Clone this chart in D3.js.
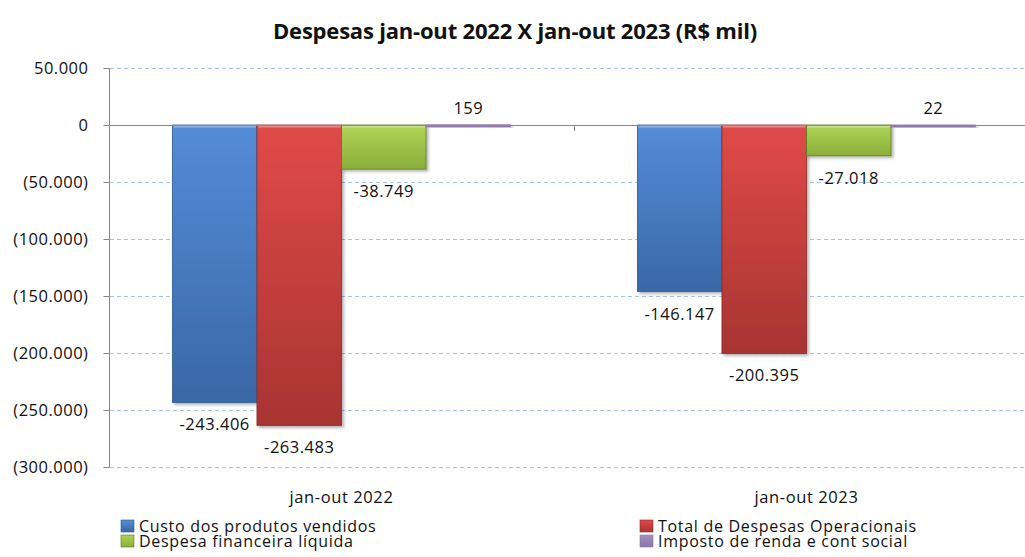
<!DOCTYPE html>
<html>
<head>
<meta charset="utf-8">
<script src="https://cdn.jsdelivr.net/npm/d3@7"></script>
<style>
body { margin: 0; background: #fff; }
text { font-family: "Open Sans", "Noto Sans", sans-serif; fill: #111; }
</style>
</head>
<body>
<div id="main_div"></div>
<script>
var categories = ["jan-out 2022", "jan-out 2023"];
var series = ["Custo dos produtos vendidos", "Total de Despesas Operacionais", "Despesa financeira líquida", "Imposto de renda e cont social"];
var values = [
    [-243406, -263483, -38749, 159],
    [-146147, -200395, -27018, 22]
];
var y_ticks = [50000, 0, -50000, -100000, -150000, -200000, -250000, -300000];
var colors = [
    {top: "#548cd8", bot: "#3a67a6", edge: "#2f5a93"},
    {top: "#e04a48", bot: "#a83432", edge: "#8c2a28"},
    {top: "#b0d456", bot: "#8aae3a", edge: "#5f7a23"},
    {top: "#a291c0", bot: "#8a76a8", edge: "#8a76a8"}
];

var W = 1025, H = 557;
var svg = d3.select("#main_div").append("svg").attr("width", W).attr("height", H);

var defs = svg.append("defs");
colors.forEach(function(c, i) {
    var g = defs.append("linearGradient").attr("id", "grad" + i).attr("x1", 0).attr("y1", 0).attr("x2", 0).attr("y2", 1);
    g.append("stop").attr("offset", "0%").attr("stop-color", c.top);
    g.append("stop").attr("offset", "100%").attr("stop-color", c.bot);
});
var f = defs.append("filter").attr("id", "shadow").attr("x", "-10%").attr("y", "-10%").attr("width", "130%").attr("height", "130%");
f.append("feDropShadow").attr("dx", 2).attr("dy", 2).attr("stdDeviation", 1.5).attr("flood-color", "#000").attr("flood-opacity", 0.3);

var y_scale = d3.scaleLinear().domain([-300000, 50000]).range([467, 68]);
var x0 = d3.scaleBand().domain(categories).range([109, 1039]);
var x1 = d3.scaleBand().domain(d3.range(series.length)).range([0, x0.bandwidth()]).paddingOuter(0.75);

function fmt(v) {
    var s = d3.format(",")(Math.abs(v)).replace(/,/g, ".");
    return v < 0 ? "(" + s + ")" : s;
}
function fmtLabel(v) {
    return (v < 0 ? "-" : "") + d3.format(",")(Math.abs(v)).replace(/,/g, ".");
}

// title
svg.append("text").attr("x", 515).attr("y", 39).attr("text-anchor", "middle")
    .style("font-size", "22px").style("font-weight", "bold").style("letter-spacing", "-0.2px")
    .text("Despesas jan-out 2022 X jan-out 2023 (R$ mil)");

// gridlines
svg.append("g").selectAll("line").data(y_ticks.filter(function(d) { return d != 0; })).enter().append("line")
    .attr("x1", 110).attr("x2", W)
    .attr("y1", function(d) { return y_scale(d) + 0.5; })
    .attr("y2", function(d) { return y_scale(d) + 0.5; })
    .attr("stroke", "#a9c2e2").attr("stroke-dasharray", "4,3").attr("stroke-width", 1);

// y axis
var g_y = svg.append("g").attr("transform", "translate(109.5,0)")
    .call(d3.axisLeft(y_scale).tickValues(y_ticks).tickSize(6).tickFormat(fmt));
g_y.select(".domain").attr("stroke", "#888").attr("d", "M0," + y_scale(50000) + "V" + (y_scale(-300000) + 0.5));
g_y.selectAll(".tick line").attr("stroke", "#888");
g_y.selectAll(".tick text").attr("x", -21).style("font-size", "16.5px").style("letter-spacing", "0.5px")
    .style("font-family", "Open Sans").attr("fill", "#111");

// bars
var groups = svg.append("g").selectAll("g").data(values).enter().append("g")
    .attr("transform", function(d, i) { return "translate(" + x0(categories[i]) + ",0)"; });

groups.selectAll("rect").data(function(d) { return d; }).enter().append("rect")
    .attr("x", function(d, j) { return x1(j); })
    .attr("width", x1.bandwidth())
    .attr("y", function(d) { return Math.min(y_scale(d), y_scale(0)); })
    .attr("height", function(d) { return Math.max(2, Math.abs(y_scale(d) - y_scale(0))); })
    .attr("fill", function(d, j) { return "url(#grad" + j + ")"; })
    .attr("stroke", function(d, j) { return colors[j].edge; })
    .attr("stroke-width", 0.8)
    .attr("filter", "url(#shadow)");

// bevel highlight on top edge
groups.selectAll("line.hl").data(function(d) { return d; }).enter().append("line").attr("class", "hl")
    .attr("x1", function(d, j) { return x1(j) + 1; })
    .attr("x2", function(d, j) { return x1(j) + x1.bandwidth() - 1; })
    .attr("y1", y_scale(0) + 1.5).attr("y2", y_scale(0) + 1.5)
    .attr("stroke", "#fff").attr("stroke-opacity", function(d) { return d < 0 ? 0.35 : 0; }).attr("stroke-width", 2);

// zero line and category ticks
svg.append("line").attr("x1", 109).attr("x2", W).attr("y1", y_scale(0) + 0.5).attr("y2", y_scale(0) + 0.5)
    .attr("stroke", "#888");
svg.append("line").attr("x1", x0(categories[1]) + 0.5).attr("x2", x0(categories[1]) + 0.5)
    .attr("y1", y_scale(0)).attr("y2", y_scale(0) + 6).attr("stroke", "#888");

// value labels
groups.selectAll("text").data(function(d) { return d; }).enter().append("text")
    .attr("x", function(d, j) { return x1(j) + x1.bandwidth() / 2; })
    .attr("y", function(d) { return d < 0 ? y_scale(d) + 28 : y_scale(d) - 11; })
    .attr("text-anchor", "middle").style("font-size", "16.5px").style("letter-spacing", "0.5px")
    .text(fmtLabel);

// category labels
svg.append("g").selectAll("text").data(categories).enter().append("text")
    .attr("x", function(d) { return x0(d) + x0.bandwidth() / 2; })
    .attr("y", 503).attr("text-anchor", "middle").style("font-size", "16.5px").style("letter-spacing", "0.6px")
    .text(function(d) { return d; });

// legend
var legX = [121, 640], legY = [526, 541];
var leg = svg.append("g").selectAll("g").data(series).enter().append("g")
    .attr("transform", function(d, i) { return "translate(" + legX[i % 2] + "," + legY[Math.floor(i / 2)] + ")"; });
leg.append("rect").attr("x", 0).attr("y", -6).attr("width", 13).attr("height", 12)
    .attr("fill", function(d, i) { return "url(#grad" + i + ")"; })
    .attr("stroke", function(d, i) { return colors[i].edge; }).attr("stroke-width", 0.6);
leg.append("text").attr("x", 18).attr("y", 5.5).style("font-size", "16px").style("letter-spacing", "0.7px")
    .text(function(d) { return d; });
</script>
</body>
</html>
